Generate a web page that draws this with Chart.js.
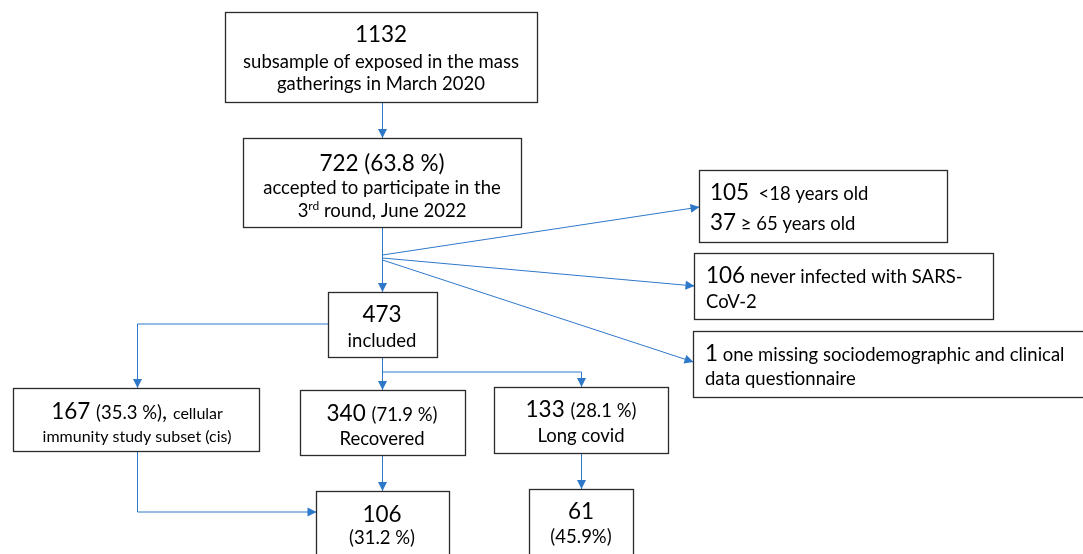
<!DOCTYPE html>
<html>
<head>
<meta charset="utf-8">
<script src="https://cdn.jsdelivr.net/npm/chart.js@4.4.1/dist/chart.umd.min.js"></script>
<style>
  html, body { margin: 0; padding: 0; background: #fff; }
</style>
</head>
<body>
<canvas id="flow" width="1083" height="554"></canvas>
<script>
// ---- flow counts and labels (what the diagram says) ----
var counts   = ['1132', '722', '105', '37', '106', '1', '473', '167', '340', '133', '106', '61'];
var shares   = ['', '(63.8 %)', '', '', '', '', '', '(35.3 %)', '(71.9 %)', '(28.1 %)', '(31.2 %)', '(45.9%)'];
var captions = [
  ['subsample of exposed in the mass', 'gatherings in March 2020'],
  ['accepted to participate in the', 'round, June 2022'],
  ['<18 years old'],
  ['\u2265 65 years old'],
  ['never infected with SARS-', 'CoV-2'],
  ['one missing sociodemographic and clinical', 'data questionnaire'],
  ['included'],
  ['cellular', 'immunity study subset (cis)'],
  ['Recovered'],
  ['Long covid'],
  [],
  []
];

// ---- layout (pixel units of the hidden scales) ----
// boxes: [x0, y0, x1, y1]
var boxes = [
  [225, 12, 537, 102],    // 1132
  [243, 138, 521, 227],   // 722
  [699, 170, 947, 242],   // 105 / 37
  [694, 253, 993, 319],   // 106 never infected
  [693, 331, 1090, 397],  // 1 missing
  [328, 292, 437, 357],   // 473
  [13, 388, 259, 451],    // 167
  [300, 390, 465, 455],   // 340
  [494, 387, 668, 453],   // 133
  [316, 491, 449, 570],   // 106 (31.2 %)
  [529, 489, 633, 570]    // 61
];
// connectors: polylines, last segment ends with an arrow head
var links = [
  [[382, 102], [382, 138]],
  [[382, 227], [382, 292]],
  [[382, 255], [699, 207]],
  [[382, 258], [694, 286]],
  [[382, 260], [693, 362]],
  [[382, 357], [382, 390]],
  [[382, 372], [581, 372], [581, 387]],
  [[328, 324], [137, 324], [137, 388]],
  [[137, 451], [137, 512], [316, 512]],
  [[382, 455], [382, 491]],
  [[581, 453], [581, 489]]
];

var FONT = 'Lato, "Noto Sans", sans-serif';
var BLUE = '#2e78c9';
var sz = { n: 22.5, t: 18.5, s: 16, sup: 12 };

// text lines per box: [baseline, runs of [text, size, rise]]
function textLayout() {
  return [
    { x: 381, align: 'center', lines: [
      [42, [[counts[0], 'n']]],
      [68, [[captions[0][0], 't']]],
      [90, [[captions[0][1], 't']]]
    ]},
    { x: 382, align: 'center', lines: [
      [171, [[counts[1] + ' ' + shares[1], 'n']]],
      [194, [[captions[1][0], 't']]],
      [217, [['3', 't'], ['rd', 'sup', -7], [' ' + captions[1][1], 't']]]
    ]},
    { x: 710, align: 'left', lines: [
      [200, [[counts[2], 'n'], ['  ' + captions[2][0], 't']]],
      [230, [[counts[3], 'n'], [' ' + captions[3][0], 't']]]
    ]},
    { x: 706, align: 'left', lines: [
      [283, [[counts[4], 'n'], [' ' + captions[4][0], 't']]],
      [308, [[captions[4][1], 't']]]
    ]},
    { x: 705, align: 'left', lines: [
      [361, [[counts[5], 'n'], [' ' + captions[5][0], 't']]],
      [385, [[captions[5][1], 't']]]
    ]},
    { x: 382, align: 'center', lines: [
      [322, [[counts[6], 'n']]],
      [347, [[captions[6][0], 't']]]
    ]},
    { x: 137, align: 'center', lines: [
      [419, [[counts[7] + ' ', 'n'], [shares[7], 't'], [', ', 'n'], [captions[7][0], 's']]],
      [442, [[captions[7][1], 's']]]
    ]},
    { x: 382, align: 'center', lines: [
      [421, [[counts[8] + ' ', 'n'], [shares[8], 't']]],
      [445, [[captions[8][0], 't']]]
    ]},
    { x: 581, align: 'center', lines: [
      [417, [[counts[9] + ' ', 'n'], [shares[9], 't']]],
      [442, [[captions[9][0], 't']]]
    ]},
    { x: 382, align: 'center', lines: [
      [522, [[counts[10], 'n']]],
      [544, [[shares[10], 't']]]
    ]},
    { x: 581, align: 'center', lines: [
      [519, [[counts[11], 'n']]],
      [543, [[shares[11], 't']]]
    ]}
  ];
}

var flowPlugin = {
  id: 'flow',
  afterDraw: function (chart) {
    var ctx = chart.ctx;
    var xs = chart.scales.x, ys = chart.scales.y;
    var px = function (v) { return xs.getPixelForValue(v); };
    var py = function (v) { return ys.getPixelForValue(v); };

    ctx.save();
    // connectors
    ctx.strokeStyle = BLUE;
    ctx.fillStyle = BLUE;
    ctx.lineWidth = 1;
    links.forEach(function (pts) {
      ctx.beginPath();
      pts.forEach(function (p, i) {
        var X = px(p[0]) + 0.5, Y = py(p[1]);
        if (i === 0) ctx.moveTo(X, Y); else ctx.lineTo(X, Y);
      });
      ctx.stroke();
      var a = pts[pts.length - 2], b = pts[pts.length - 1];
      var bx = px(b[0]) + 0.5, by = py(b[1]);
      var ang = Math.atan2(by - py(a[1]), bx - px(a[0]) - 0.5);
      var L = 9, W = 4.5;
      ctx.beginPath();
      ctx.moveTo(bx, by);
      ctx.lineTo(bx - L * Math.cos(ang) + W * Math.sin(ang), by - L * Math.sin(ang) - W * Math.cos(ang));
      ctx.lineTo(bx - L * Math.cos(ang) - W * Math.sin(ang), by - L * Math.sin(ang) + W * Math.cos(ang));
      ctx.closePath();
      ctx.fill();
    });

    // boxes
    ctx.strokeStyle = '#2b2b2b';
    ctx.lineWidth = 1.3;
    boxes.forEach(function (b) {
      ctx.fillStyle = '#fff';
      ctx.fillRect(px(b[0]), py(b[1]), px(b[2]) - px(b[0]), py(b[3]) - py(b[1]));
      ctx.strokeRect(px(b[0]) + 0.5, py(b[1]) + 0.5, px(b[2]) - px(b[0]), py(b[3]) - py(b[1]));
    });

    // texts
    ctx.fillStyle = '#000';
    ctx.textBaseline = 'alphabetic';
    ctx.textAlign = 'left';
    textLayout().forEach(function (node) {
      node.lines.forEach(function (ln) {
        var runs = ln[1], total = 0;
        runs.forEach(function (r) {
          ctx.font = sz[r[1]] + 'px ' + FONT;
          r.w = ctx.measureText(r[0]).width;
          total += r.w;
        });
        var x = px(node.x) - (node.align === 'center' ? total / 2 : 0);
        runs.forEach(function (r) {
          ctx.font = sz[r[1]] + 'px ' + FONT;
          ctx.fillText(r[0], x, py(ln[0] + (r[2] || 0)));
          x += r.w;
        });
      });
    });
    ctx.restore();
  }
};

new Chart(document.getElementById('flow'), {
  type: 'scatter',
  data: { datasets: [] },
  options: {
    responsive: false,
    animation: false,
    layout: { padding: 0 },
    plugins: { legend: { display: false }, tooltip: { enabled: false } },
    scales: {
      x: { type: 'linear', min: 0, max: 1083, display: false },
      y: { type: 'linear', min: 0, max: 554, reverse: true, display: false }
    }
  },
  plugins: [flowPlugin]
});
</script>
</body>
</html>
